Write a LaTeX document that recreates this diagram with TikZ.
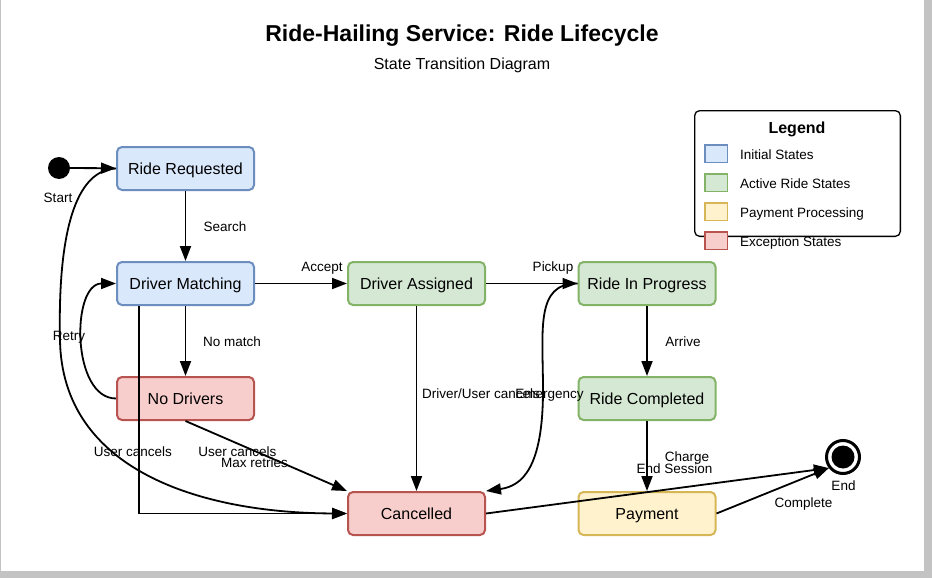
\documentclass[tikz,border=0pt]{standalone}
\usepackage{fontspec}
\setmainfont{Liberation Sans}
\usetikzlibrary{arrows.meta}
\definecolor{iniF}{HTML}{DAE8FC}\definecolor{iniD}{HTML}{6C8EBF}
\definecolor{actF}{HTML}{D5E8D4}\definecolor{actD}{HTML}{82B366}
\definecolor{payF}{HTML}{FFF2CC}\definecolor{payD}{HTML}{D6B656}
\definecolor{excF}{HTML}{F8CECC}\definecolor{excD}{HTML}{B85450}
\definecolor{frameGray}{HTML}{C3C3C3}
\begin{document}
\begin{tikzpicture}[x=1pt,y=-1pt,
  state/.style={rectangle, rounded corners=5pt, line width=2pt, minimum width=137pt, minimum height=43pt, inner sep=0pt, text height=11.5pt, text depth=0pt, font=\fontsize{16}{19}\selectfont},
  ini/.style={state, fill=iniF, draw=iniD},
  act/.style={state, fill=actF, draw=actD},
  pays/.style={state, fill=payF, draw=payD},
  exc/.style={state, fill=excF, draw=excD},
  tr/.style={line width=1.8pt, -{Triangle[length=15pt,width=11pt]}},
  lbl/.style={font=\fontsize{13.5}{16}\selectfont, inner sep=0pt, text height=9.7pt, text depth=0pt},
  sw/.style={rectangle, line width=1.5pt, minimum width=22.5pt, minimum height=17.5pt, inner sep=0pt}
]
\fill[frameGray] (0,0) rectangle (932,578);
\fill[white] (1,0) rectangle (924,571);
\useasboundingbox (0,0) rectangle (932,578);

% title
\node[font=\bfseries\fontsize{23}{27}\selectfont, text height=16.5pt, text depth=0pt, inner sep=0pt] (title) at (462,33) {Ride-Hailing Service: Ride Lifecycle};
\node[font=\fontsize{16}{19}\selectfont, text height=11.5pt, text depth=0pt, inner sep=0pt] (subtitle) at (462,64) {State Transition Diagram};

% legend
\node[draw, line width=1.3pt, rounded corners=5pt, fill=white, minimum width=205.7pt, minimum height=125.7pt, inner sep=0pt] (legend) at (797.5,173.5) {};
\node[font=\bfseries\fontsize{16}{19}\selectfont, text height=11.5pt, text depth=0pt, inner sep=0pt] (legt) at (797,128) {Legend};
\node[sw, fill=iniF, draw=iniD] (sw1) at (716,153.5) {};
\node[sw, fill=actF, draw=actD] (sw2) at (716,182.5) {};
\node[sw, fill=payF, draw=payD] (sw3) at (716,211.5) {};
\node[sw, fill=excF, draw=excD] (sw4) at (716,240.5) {};
\node[lbl, anchor=west] (lg1) at (740,155) {Initial States};
\node[lbl, anchor=west] (lg2) at (740,184) {Active Ride States};
\node[lbl, anchor=west] (lg3) at (740,213) {Payment Processing};
\node[lbl, anchor=west] (lg4) at (740,242) {Exception States};

% states
\node[circle, fill=black, minimum size=22pt, inner sep=0pt] (start) at (59,168) {};
\node[ini] (rr) at (185.5,168.5) {Ride Requested};
\node[ini] (dm) at (185.5,283.5) {Driver Matching};
\node[exc] (nd) at (185.5,398.5) {No Drivers};
\node[act] (da) at (416.5,283.5) {Driver Assigned};
\node[act] (rip) at (647,283.5) {Ride In Progress};
\node[act] (rc) at (647,398.5) {Ride Completed};
\node[exc] (can) at (416.5,513.5) {Cancelled};
\node[pays] (pay) at (647,513.5) {Payment};
\node[circle, draw=black, line width=3pt, fill=white, minimum size=33pt, inner sep=0pt] (end) at (843,457) {};
\node[circle, fill=black, minimum size=23pt, inner sep=0pt] (endin) at (843,457) {};

% transitions
\draw[tr] (start) -- (rr);
\draw[tr] (rr) -- (dm);
\draw[tr] (dm) -- (da);
\draw[tr] (da) -- (rip);
\draw[tr] (dm) -- (nd);
\draw[tr] (nd.west) to[out=180,in=180] (dm.west);
\draw[tr] (rip) -- (rc);
\draw[tr] (rc) -- (pay);
\draw[tr] (da) -- (can);
\draw[tr] (rip.west) .. controls (535,283) and (543,330) .. (543,390) .. controls (543,468) and (522,486) .. (can.north east);
\draw[tr] (rr.west) .. controls (70,170) and (58,250) .. (60,340) .. controls (62,470) and (200,513) .. (can.west);
\draw[tr] ([xshift=23pt]dm.south west) |- (can.west);
\draw[tr] (nd.south) -- (can.north west);
\draw[tr] (can.east) -- (end.218);
\draw[tr] (pay.east) -- (end.218);

% labels
\node[lbl] (lstart) at (58,198) {Start};
\node[lbl] (lsearch) at (225,227) {Search};
\node[lbl] (laccept) at (322,267) {Accept};
\node[lbl] (lpickup) at (553,267) {Pickup};
\node[lbl] (lnomatch) at (232,342) {No match};
\node[lbl] (lretry) at (69,336) {Retry};
\node[lbl] (larrive) at (683,342) {Arrive};
\node[lbl, anchor=west] (ldu) at (422,394) {Driver/User cancels};
\node[lbl] (lemerg) at (549.5,394) {Emergency};
\node[lbl] (luc1) at (133,452) {User cancels};
\node[lbl] (luc2) at (237.5,452) {User cancels};
\node[lbl] (lmax) at (254.5,463) {Max retries};
\node[lbl] (lcharge) at (687,457) {Charge};
\node[lbl] (lendses) at (674.5,469) {End Session};
\node[lbl] (lend) at (843.5,486) {End};
\node[lbl] (lcomplete) at (803.5,503) {Complete};
\end{tikzpicture}
\end{document}
